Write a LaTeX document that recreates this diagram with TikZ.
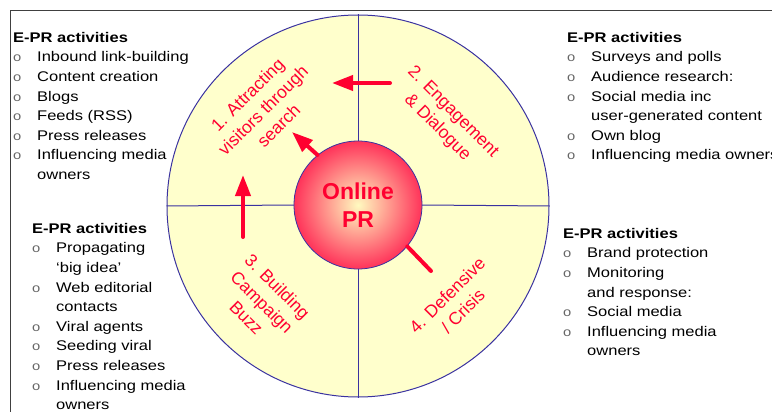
\documentclass[tikz,border=0pt]{standalone}
\usepackage{fontspec}
\setmainfont{Liberation Sans}
\newfontfamily\listfont[FakeStretch=1.18]{Liberation Sans}
\usetikzlibrary{arrows.meta}

\definecolor{prred}{HTML}{FF0030}
\definecolor{rimblue}{HTML}{3A32A0}
\definecolor{padyellow}{HTML}{FFFFCC}

\newcommand{\bul}{\makebox[24pt][l]{\textcolor{black!60}{\fontsize{12.5}{12.5}\selectfont o}}}
\newcommand{\gap}{\hspace*{24pt}}

\tikzset{
  actlist/.style={anchor=north west, inner sep=0pt, align=left,
    font=\listfont\fontsize{14}{19.6}\selectfont},
  quad/.style={text=prred, align=center, inner sep=0pt,
    font=\fontsize{17.5}{22}\selectfont},
  prarrow/.style={draw=prred, line width=4pt, line cap=round,
    -{Triangle[length=21pt,width=15pt]}},
}

\begin{document}
\begin{tikzpicture}[x=1pt,y=-1pt]
  \useasboundingbox (0,0) rectangle (772,412);
  % frame
  \draw[black!75, line width=1pt] (10,420) -- (10,11) -- (780,11);

  % wheel
  \node[circle, draw=rimblue, fill=padyellow, line width=1pt,
    minimum size=382pt, inner sep=0pt] (outer) at (358,206) {};
  \node[circle, minimum size=128pt, inner sep=0pt] (core) at (358,205) {};
  \draw[rimblue, line width=1pt] (outer.north) -- (core.north);
  \draw[rimblue, line width=1pt] (outer.south) -- (core.south);
  \draw[rimblue, line width=1pt] (outer.west) -- (core.west);
  \draw[rimblue, line width=1pt] (outer.east) -- (core.east);
  \node[circle, draw=rimblue, line width=0.8pt, inner color=red!8!yellow!25,
    outer color=prred!80, minimum size=128pt, inner sep=0pt, text=prred,
    align=center, font=\bfseries\fontsize{23}{28}\selectfont] (hub)
    at (358,205) {Online\\PR};

  % quadrant labels
  \node[quad, rotate=45] (attract) at (263,110) {1. Attracting\\visitors through\\search};
  \node[quad, rotate=-45] (engage) at (445,120) {2. Engagement\\\& Dialogue};
  \node[quad, rotate=-45] (buzz) at (262,302) {3. Building\\Campaign\\Buzz};
  \node[quad, rotate=45] (crisis) at (455,303) {4. Defensive\\/ Crisis};

  % arrows
  \coordinate (engtail) at (390,83);
  \coordinate (engtip) at (332,83);
  \draw[prarrow] (engtail) -- (engtip);
  \coordinate (hubtip) at (292,132);
  \draw[prarrow] (hub.129) -- (hubtip);
  \coordinate (buzztail) at (243,237);
  \coordinate (buzztip) at (243,175);
  \draw[prarrow] (buzztail) -- (buzztip);
  \coordinate (crisistail) at (431,271);
  \draw[draw=prred, line width=4pt, line cap=round] (crisistail) -- (hub.-40);

  % activity lists
  \node[actlist] (listone) at (13,32) {\textbf{E-PR activities}\\
    \bul Inbound link-building\\
    \bul Content creation\\
    \bul Blogs\\
    \bul Feeds (RSS)\\
    \bul Press releases\\
    \bul Influencing media\\
    \gap owners};
  \node[actlist] (listtwo) at (567,32) {\textbf{E-PR activities}\\
    \bul Surveys and polls\\
    \bul Audience research:\\
    \bul Social media inc\\
    \gap user-generated content\\
    \bul Own blog\\
    \bul Influencing media owners};
  \node[actlist] (listthree) at (32,223) {\textbf{E-PR activities}\\
    \bul Propagating\\
    \gap ‘big idea’\\
    \bul Web editorial\\
    \gap contacts\\
    \bul Viral agents\\
    \bul Seeding viral\\
    \bul Press releases\\
    \bul Influencing media\\
    \gap owners};
  \node[actlist] (listfour) at (563,228) {\textbf{E-PR activities}\\
    \bul Brand protection\\
    \bul Monitoring\\
    \gap and response:\\
    \bul Social media\\
    \bul Influencing media\\
    \gap owners};
\end{tikzpicture}
\end{document}
